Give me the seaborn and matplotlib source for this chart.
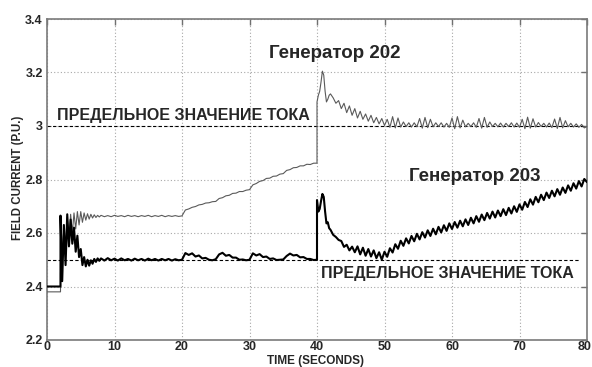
import numpy as np
import pandas as pd
import matplotlib
matplotlib.use("Agg")
import matplotlib.pyplot as plt
import matplotlib.transforms as mtransforms
import seaborn as sns

# ---- sample times (seconds) for each stretch of the recording ----
t_hold = [0.0, 2.0]
t_start = np.linspace(2.0, 7.75, 24)
t_flat = np.linspace(8.0, 19.5, 24)
t_ramp = np.linspace(20.0, 40.0, 41)
t_fault = np.linspace(40.0, 41.8, 10)
t_tail = np.linspace(42.0, 80.0, 96)

# ---- generator 202 field current (p.u.) ----
g202_hold = [2.38, 2.38]
g202_start = [2.45, 2.52, 2.62, 2.55, 2.66, 2.58, 2.67, 2.60, 2.675, 2.615, 2.68, 2.63,
              2.68, 2.64, 2.675, 2.648, 2.672, 2.652, 2.670, 2.656, 2.668, 2.658, 2.666, 2.660]
g202_flat = [2.666, 2.661, 2.665, 2.661, 2.666, 2.662, 2.665, 2.661, 2.666, 2.662, 2.665, 2.661,
             2.665, 2.662, 2.666, 2.661, 2.665, 2.662, 2.666, 2.661, 2.665, 2.662, 2.665, 2.662]
g202_ramp = [2.664, 2.686, 2.690, 2.696, 2.699, 2.705, 2.707, 2.712, 2.713, 2.717, 2.718,
             2.729, 2.732, 2.739, 2.741, 2.748, 2.749, 2.755, 2.755, 2.760, 2.762,
             2.780, 2.785, 2.793, 2.796, 2.804, 2.805, 2.812, 2.813, 2.820, 2.822,
             2.834, 2.837, 2.844, 2.845, 2.851, 2.851, 2.857, 2.856, 2.861, 2.861]
g202_fault = [3.09, 3.115, 3.13, 3.165, 3.205, 3.19, 3.13, 3.09, 3.10, 3.115]
g202_tail = [3.120, 3.105, 3.085, 3.095, 3.065, 3.085, 3.050, 3.075, 3.040, 3.065,
             3.030, 3.055, 3.025, 3.045, 3.018, 3.040, 3.012, 3.032, 3.008, 3.028,
             3.002, 3.025, 2.995, 3.035, 2.993, 3.030, 2.996, 3.015, 2.998, 3.012,
             2.996, 3.012, 2.997, 3.028, 2.992, 3.032, 2.994, 3.025, 2.997, 3.012,
             2.998, 3.012, 2.996, 3.010, 2.995, 3.030, 2.990, 3.035, 2.993, 3.022,
             2.997, 3.010, 2.998, 3.012, 2.995, 3.028, 2.992, 3.032, 2.995, 3.015,
             2.998, 3.010, 2.997, 3.011, 2.996, 3.010, 2.998, 3.012, 2.996, 3.011,
             2.995, 3.025, 2.990, 3.033, 2.992, 3.027, 2.996, 3.013, 2.998, 3.010,
             2.996, 3.011, 2.994, 3.026, 2.991, 3.032, 2.993, 3.020, 2.997, 3.010,
             2.996, 3.008, 2.995, 3.006, 2.993, 2.998]

# ---- generator 203 field current (p.u.) ----
g203_hold = [2.40, 2.40]
g203_start = [2.665, 2.42, 2.63, 2.48, 2.67, 2.55, 2.65, 2.56, 2.62, 2.53, 2.59, 2.51,
              2.54, 2.48, 2.51, 2.475, 2.50, 2.478, 2.498, 2.485, 2.503, 2.492, 2.505, 2.496]
g203_flat = [2.505, 2.497, 2.506, 2.498, 2.504, 2.497, 2.505, 2.498, 2.503, 2.497, 2.504, 2.498,
             2.503, 2.497, 2.504, 2.498, 2.503, 2.497, 2.503, 2.498, 2.503, 2.497, 2.502, 2.498]
g203_ramp = [2.500, 2.525, 2.518, 2.524, 2.512, 2.516, 2.505, 2.507, 2.500, 2.498,
             2.502, 2.520, 2.526, 2.515, 2.518, 2.508, 2.508, 2.500, 2.501, 2.498,
             2.500, 2.524, 2.516, 2.521, 2.510, 2.512, 2.503, 2.505, 2.499, 2.500,
             2.501, 2.514, 2.523, 2.516, 2.518, 2.509, 2.510, 2.503, 2.503, 2.499, 2.500]
g203_fault = [2.723, 2.680, 2.690, 2.720, 2.746, 2.735, 2.680, 2.636, 2.640, 2.618]
g203_tail = [2.612, 2.593, 2.585, 2.574, 2.570, 2.548, 2.556, 2.535, 2.549, 2.528,
             2.550, 2.520, 2.545, 2.515, 2.540, 2.512, 2.535, 2.506, 2.528, 2.500,
             2.530, 2.511, 2.543, 2.527, 2.558, 2.541, 2.571, 2.552, 2.580, 2.561,
             2.589, 2.569, 2.597, 2.576, 2.603, 2.583, 2.610, 2.589, 2.616, 2.595,
             2.623, 2.602, 2.629, 2.608, 2.636, 2.615, 2.641, 2.620, 2.646, 2.625,
             2.651, 2.630, 2.657, 2.636, 2.663, 2.642, 2.669, 2.648, 2.675, 2.654,
             2.680, 2.658, 2.684, 2.663, 2.689, 2.667, 2.694, 2.673, 2.700, 2.679,
             2.707, 2.687, 2.716, 2.697, 2.726, 2.706, 2.735, 2.715, 2.743, 2.723,
             2.751, 2.731, 2.758, 2.737, 2.764, 2.743, 2.770, 2.750, 2.778, 2.758,
             2.786, 2.766, 2.794, 2.774, 2.802, 2.790]

# ---- current limits and labels ----
limit_202 = 3.0
limit_203 = 2.5
limit_text = "ПРЕДЕЛЬНОЕ ЗНАЧЕНИЕ ТОКА"
name_202 = "Генератор 202"
name_203 = "Генератор 203"
x_ticks = [0, 10, 20, 30, 40, 50, 60, 70, 80]
y_ticks = [2.2, 2.4, 2.6, 2.8, 3.0, 3.2, 3.4]
y_tick_labels = ["2.2", "2.4", "2.6", "2.8", "3", "3.2", "3.4"]

times = np.concatenate([t_hold, t_start, t_flat, t_ramp, t_fault, t_tail])
df202 = pd.DataFrame({"t": times,
                      "i": np.concatenate([g202_hold, g202_start, g202_flat,
                                           g202_ramp, g202_fault, g202_tail])})
df203 = pd.DataFrame({"t": times,
                      "i": np.concatenate([g203_hold, g203_start, g203_flat,
                                           g203_ramp, g203_fault, g203_tail])})

sns.set_style("white")
plt.rcParams["font.family"] = ["Liberation Sans", "DejaVu Sans"]
plt.rcParams["font.weight"] = "bold"

fig = plt.figure(figsize=(5.92, 3.67), dpi=100)
ax = fig.add_axes([47 / 592, 27 / 367, 540 / 592, 321 / 367])

ax.hlines(limit_202, 0, 80, colors="black", linestyles=(0, (3, 2)), linewidth=0.8, zorder=2)
ax.hlines(limit_203, 0, 79, colors="black", linestyles=(0, (3, 2)), linewidth=0.8, zorder=2)

sns.lineplot(data=df202, x="t", y="i", estimator=None, sort=False, ax=ax,
             color="#5a5a5a", linewidth=0.8, zorder=3)
sns.lineplot(data=df203, x="t", y="i", estimator=None, sort=False, ax=ax,
             color="black", linewidth=1.5, zorder=4)

ax.set_xlim(0, 80)
ax.set_ylim(2.2, 3.4)
ax.grid(True, linestyle=(0, (1, 2)), color="#a8a8a8", linewidth=0.8)
ax.tick_params(direction="in", length=4, width=1, color="#707070",
               top=True, right=True)
ax.tick_params(axis="x", pad=1)
ax.tick_params(axis="y", pad=3)
ax.set_xticks(x_ticks)
xlabels = ax.set_xticklabels([str(v) for v in x_ticks], fontsize=9, fontweight="bold")
ax.set_yticks(y_ticks)
ax.set_yticklabels(y_tick_labels, fontsize=9, fontweight="bold")
# keep the last x tick label inside the canvas
xlabels[-1].set_horizontalalignment("right")
xlabels[-1].set_transform(xlabels[-1].get_transform()
                          + mtransforms.ScaledTranslation(4 / 100, 0, fig.dpi_scale_trans))
for sp in ax.spines.values():
    sp.set_visible(True)
    sp.set_color("#7a7a7a")
    sp.set_linewidth(1.2)

ax.set_xlabel("TIME (SECONDS)", fontsize=8.5, fontweight="bold", va="center")
ax.xaxis.set_label_coords(0.498, -0.065)
ax.set_ylabel("FIELD CURRENT (P.U.)", fontsize=8.3, fontweight="bold", va="center")
ax.yaxis.set_label_coords(-0.054, 0.506)

ax.text(1.5, 3.041, limit_text, fontsize=11.5, fontweight="bold", ha="left", va="center")
ax.text(40.6, 2.45, limit_text, fontsize=11.5, fontweight="bold", ha="left", va="center")
ax.text(42.7, 3.27, name_202, fontsize=13.5, fontweight="bold", ha="center", va="center")
ax.text(63.4, 2.81, name_203, fontsize=13.5, fontweight="bold", ha="center", va="center")

fig.savefig("out.png", dpi=100)
